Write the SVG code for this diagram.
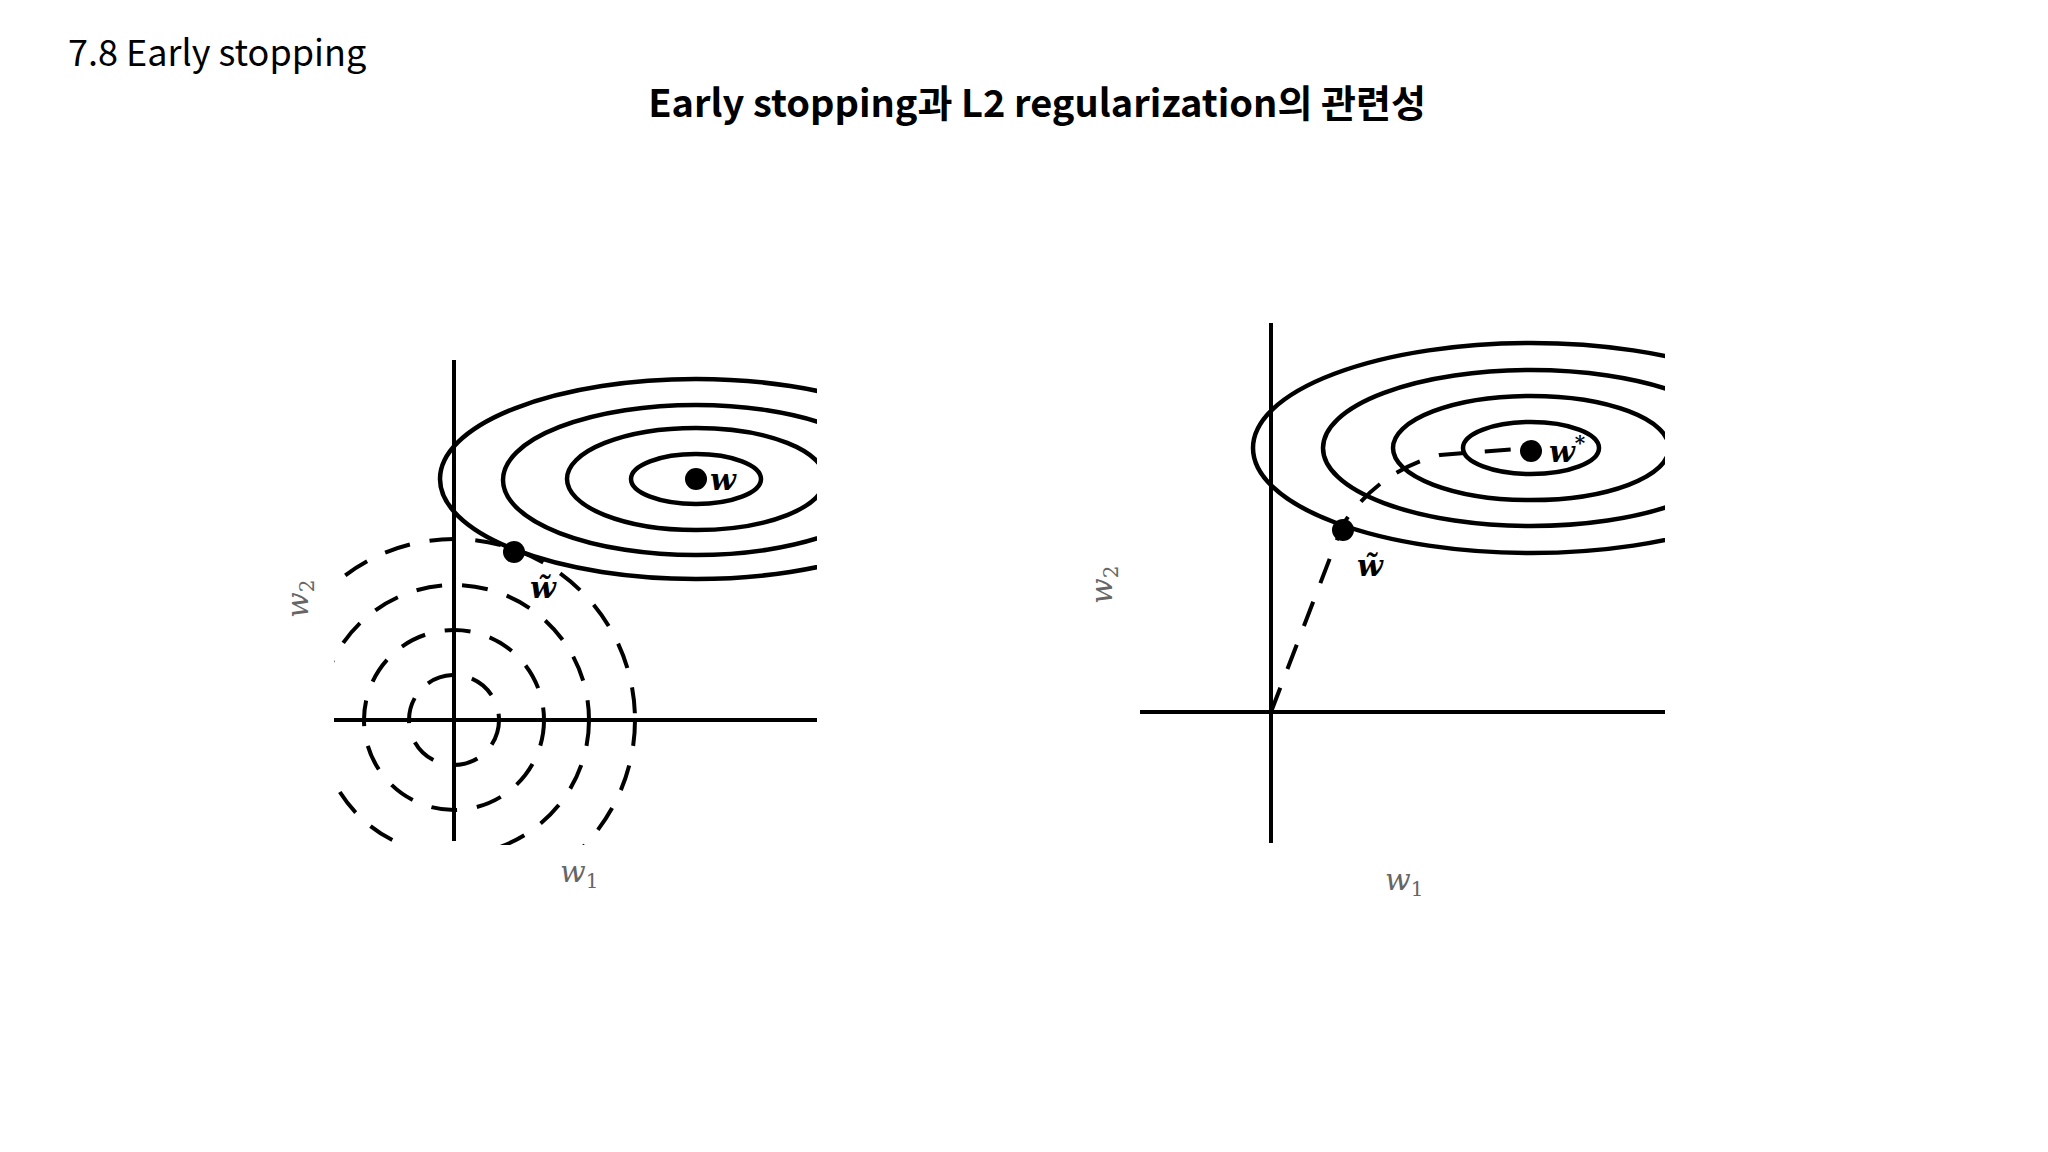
<svg xmlns="http://www.w3.org/2000/svg" width="2048" height="1152" viewBox="0 0 2048 1152">
<style>
.ax{stroke:#000;stroke-width:4;fill:none}
.el{stroke:#000;stroke-width:4.5;fill:none}
.ds{stroke:#000;stroke-width:4;fill:none;stroke-dasharray:26 20}
.m{font-family:"DejaVu Serif","Liberation Serif",serif;font-style:italic;fill:#000}
.g{fill:#666}
</style>
<defs>
<clipPath id="cl"><rect x="334" y="340" width="483" height="505"/></clipPath>
<clipPath id="cr"><rect x="1130" y="300" width="535" height="540"/></clipPath>
</defs>
<rect width="2048" height="1152" fill="#fff"/>
<text x="68" y="66" font-family="'Noto Sans CJK KR','Noto Sans',sans-serif" font-size="36">7.8 Early stopping</text>
<text x="1037" y="117" text-anchor="middle" font-family="'Noto Sans CJK KR','Noto Sans',sans-serif" font-size="38" font-weight="bold">Early stopping과 L2 regularization의 관련성</text>
<g id="left">
<g clip-path="url(#cl)">
<ellipse class="el" cx="696" cy="479" rx="256" ry="100"/>
<ellipse class="el" cx="696" cy="480" rx="193" ry="75"/>
<ellipse class="el" cx="696" cy="479" rx="129" ry="51"/>
<ellipse class="el" cx="696" cy="479" rx="65" ry="25"/>
<circle class="ds" cx="454" cy="720" r="45"/>
<circle class="ds" cx="454" cy="720" r="90"/>
<circle class="ds" cx="454" cy="720" r="135"/>
<circle class="ds" cx="454" cy="720" r="181"/>
</g>
<line class="ax" x1="454" y1="360" x2="454" y2="841"/>
<line class="ax" x1="334" y1="720" x2="817" y2="720"/>
<circle cx="696" cy="479" r="11"/>
<circle cx="514" cy="552" r="11"/>
<text class="m" x="710" y="490" font-size="30" font-weight="bold">w</text>
<text class="m" x="530" y="598" font-size="30" font-weight="bold">w̃</text>
<text class="m g" x="560" y="882" font-size="30">w<tspan font-size="20" font-style="normal" dy="6">1</tspan></text>
<text class="m g" transform="translate(308,618) rotate(-90)" font-size="30">w<tspan font-size="20" font-style="normal" dy="6">2</tspan></text>
</g>
<g id="right">
<g clip-path="url(#cr)">
<ellipse class="el" cx="1531" cy="448" rx="278" ry="105"/>
<ellipse class="el" cx="1531" cy="448" rx="208" ry="78"/>
<ellipse class="el" cx="1531" cy="448" rx="138" ry="52"/>
<ellipse class="el" cx="1531" cy="448" rx="68" ry="26"/>
</g>
<line class="ax" x1="1271" y1="323" x2="1271" y2="843"/>
<line class="ax" x1="1140" y1="712" x2="1665" y2="712"/>
<path class="ds" d="M1271,712 L1343,524 Q1380,470 1440,455 L1531,448"/>
<circle cx="1531" cy="451" r="11"/>
<circle cx="1343" cy="530" r="11"/>
<text class="m" x="1549" y="462" font-size="30" font-weight="bold">w<tspan font-size="20" dy="-12">*</tspan></text>
<text class="m" x="1357" y="576" font-size="30" font-weight="bold">w̃</text>
<text class="m g" x="1385" y="890" font-size="30">w<tspan font-size="20" font-style="normal" dy="6">1</tspan></text>
<text class="m g" transform="translate(1112,604) rotate(-90)" font-size="30">w<tspan font-size="20" font-style="normal" dy="6">2</tspan></text>
</g>
</svg>
